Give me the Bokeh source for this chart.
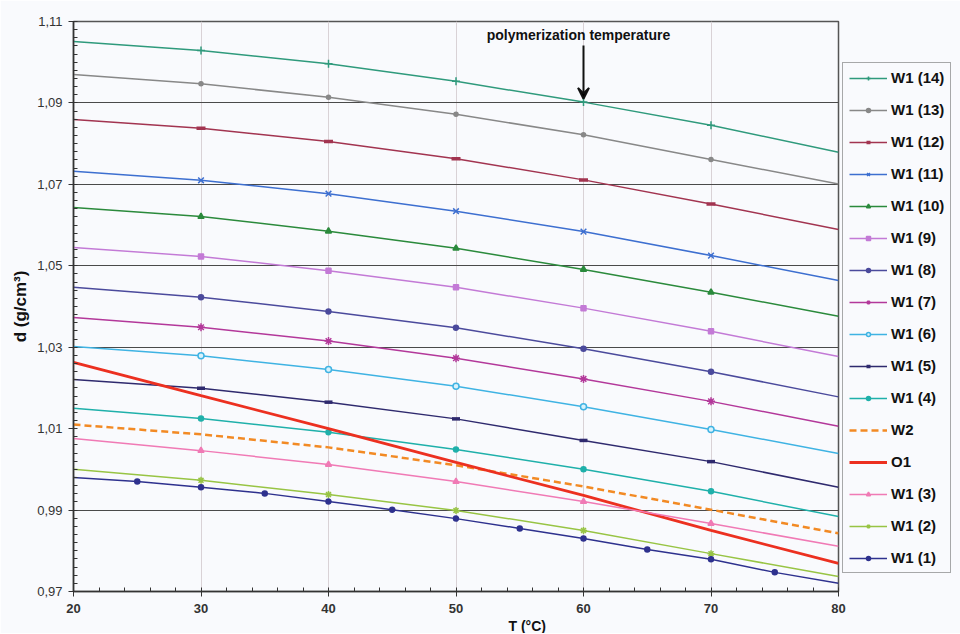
from bokeh.plotting import figure
from bokeh.models import (Legend, LegendItem, Label, Arrow, VeeHead, SingleIntervalTicker,
                          FixedTicker, CustomJSTickFormatter, Title)
from bokeh.embed import file_html
from bokeh.resources import INLINE

# Temperature grid (°C)
T = [20, 30, 40, 50, 60, 70, 80]
T_fine = [20, 25, 30, 35, 40, 45, 50, 55, 60, 65, 70, 75, 80]

# Densities d (g/cm3)
W1_14 = [1.1051, 1.1029, 1.0996, 1.0953, 1.0902, 1.0845, 1.0779]
W1_13 = [1.0970, 1.0947, 1.0914, 1.0872, 1.0822, 1.0761, 1.0701]
W1_12 = [1.0859, 1.0838, 1.0805, 1.0763, 1.0711, 1.0652, 1.0589]
W1_11 = [1.0732, 1.0710, 1.0677, 1.0634, 1.0584, 1.0525, 1.0464]
W1_10 = [1.0643, 1.0621, 1.0585, 1.0543, 1.0491, 1.0435, 1.0376]
W1_9 = [1.0545, 1.0523, 1.0488, 1.0447, 1.0396, 1.0339, 1.0277]
W1_8 = [1.0447, 1.0423, 1.0388, 1.0348, 1.0296, 1.0240, 1.0178]
W1_7 = [1.0373, 1.0349, 1.0315, 1.0273, 1.0222, 1.0167, 1.0106]
W1_6 = [1.0302, 1.0279, 1.0245, 1.0204, 1.0154, 1.0098, 1.0039]
W1_5 = [1.0221, 1.0199, 1.0165, 1.0124, 1.0071, 1.0019, 0.9956]
W1_4 = [1.0150, 1.0125, 1.0091, 1.0049, 1.0000, 0.9946, 0.9884]
W2 = [1.0110, 1.0086, 1.0054, 1.0010, 0.9958, 0.9901, 0.9843]
O1 = [1.0263, 1.0181, 1.0100, 1.0017, 0.9936, 0.9850, 0.9769]
W1_3 = [1.0076, 1.0046, 1.0012, 0.9970, 0.9921, 0.9867, 0.9811]
W1_2 = [1.0000, 0.9973, 0.9938, 0.9899, 0.9850, 0.9793, 0.9737]
W1_1 = [0.9980, 0.9970, 0.9956, 0.9941, 0.9921, 0.9901, 0.9879,
        0.9855, 0.9830, 0.9803, 0.9779, 0.9747, 0.9720]

# Axis ticks
Y_TICKS = [0.97, 0.99, 1.01, 1.03, 1.05, 1.07, 1.09, 1.11]
Y_GRID = [0.99, 1.03, 1.05, 1.07, 1.09]
X_GRID = [30, 40, 50, 60, 70]

POLY_T = 60  # polymerization temperature, °C

BG = "#f9fafd"
FONT = "Liberation Sans"

p = figure(frame_width=765, frame_height=570, x_range=(20, 80), y_range=(0.97, 1.11),
           output_backend="svg", toolbar_location=None,
           min_border_left=73, min_border_right=0, min_border_top=21, min_border_bottom=0,
           background_fill_color=BG, border_fill_color=BG)
p.outline_line_color = "#555555"
p.outline_line_width = 1.5

# axes
p.xaxis.ticker = SingleIntervalTicker(interval=10, num_minor_ticks=5)
y_minor = [round(0.97 + 0.002 * i, 3) for i in range(71)]
p.yaxis.ticker = FixedTicker(ticks=Y_TICKS, minor_ticks=y_minor)
p.yaxis.formatter = CustomJSTickFormatter(code="return tick.toFixed(2).replace('.', ',');")
for ax in (p.xaxis, p.yaxis):
    ax.axis_line_color = "#333333"
    ax.axis_line_width = 1.5
    ax.major_tick_line_color = "#333333"
    ax.minor_tick_line_color = "#333333"
    ax.major_tick_out = 5
    ax.major_tick_in = 3
    ax.minor_tick_in = 4
    ax.minor_tick_out = 0
    ax.major_label_text_font = FONT
    ax.major_label_text_font_size = "13px"
    ax.major_label_text_color = "#333333"
    ax.axis_label_text_font = FONT
    ax.axis_label_text_font_style = "bold"
    ax.axis_label_text_color = "#111111"
p.xaxis.major_label_text_font_style = "bold"
p.xaxis.major_label_standoff = 7
p.yaxis.major_label_standoff = 6
p.yaxis.axis_label = "d (g/cm³)"
p.yaxis.axis_label_text_font_size = "17px"
p.yaxis.axis_label_standoff = 4

# x axis title sits right of centre, under the 50-60 interval
p.add_layout(Title(text="T (°C)", align="left", offset=435, standoff=0,
                   text_font=FONT, text_font_style="bold", text_font_size="14px",
                   text_color="#111111"), "below")

# grids: light vertical lines, dark horizontal lines
p.xgrid.ticker = FixedTicker(ticks=X_GRID)
p.xgrid.grid_line_color = "#d9d2d6"
p.xgrid.grid_line_width = 1
p.ygrid.ticker = FixedTicker(ticks=Y_GRID)
p.ygrid.grid_line_color = "#4a4a4a"
p.ygrid.grid_line_width = 1.2

series = [
    ("W1 (14)", T, W1_14, "#2f9a7c", "cross", 8, None, 1.5),
    ("W1 (13)", T, W1_13, "#888888", "circle", 4, None, 1.5),
    ("W1 (12)", T, W1_12, "#a23450", "dash", 9, None, 1.5),
    ("W1 (11)", T, W1_11, "#3d6fd0", "x", 8, None, 1.5),
    ("W1 (10)", T, W1_10, "#2b8a3c", "triangle", 6, None, 1.5),
    ("W1 (9)", T, W1_9, "#c37ad6", "square", 5, None, 1.5),
    ("W1 (8)", T, W1_8, "#4b4a9c", "circle", 5, None, 1.5),
    ("W1 (7)", T, W1_7, "#b3389a", "asterisk", 8, None, 1.5),
    ("W1 (6)", T, W1_6, "#3fb3e3", "circle", 6, None, 1.5),
    ("W1 (5)", T, W1_5, "#2f2a6e", "dash", 8, None, 1.5),
    ("W1 (4)", T, W1_4, "#1fb0aa", "circle", 5, None, 1.5),
    ("W2", T, W2, "#f28a24", None, 0, "7 4", 2.5),
    ("O1", T, O1, "#ec3020", None, 0, None, 2.8),
    ("W1 (3)", T, W1_3, "#f07ab5", "triangle", 6, None, 1.5),
    ("W1 (2)", T, W1_2, "#98c444", "asterisk", 7, None, 1.5),
    ("W1 (1)", T_fine, W1_1, "#2e318e", "circle", 5, None, 1.5),
]

items = []
for name, xs, ys, color, marker, size, dash, lw in series:
    kw = {}
    if dash:
        kw["line_dash"] = dash
    r_line = p.line(xs, ys, line_color=color, line_width=lw, **kw)
    rends = [r_line]
    if marker:
        mx, my = xs[1:-1], ys[1:-1]
        if marker == "circle" and name == "W1 (6)":
            r_m = p.scatter(mx, my, marker=marker, size=size, line_color=color,
                            fill_color="#d8f2fb", line_width=1.5)
        elif marker == "dash":
            r_m = p.scatter(mx, my, marker=marker, size=size, line_color=color,
                            line_width=3.5)
        else:
            r_m = p.scatter(mx, my, marker=marker, size=size, line_color=color,
                            fill_color=color, line_width=1.5)
        rends.append(r_m)
    items.append(LegendItem(label=name, renderers=rends))

legend = Legend(items=items, location=(4, 18), margin=6,
                glyph_width=38, glyph_height=10, label_height=17,
                spacing=15, padding=6, label_standoff=4,
                label_text_font=FONT, label_text_font_style="bold",
                label_text_font_size="15px", label_text_color="#111111",
                border_line_color="#555555", border_line_width=1.5,
                background_fill_color=BG, background_fill_alpha=1.0)
p.add_layout(legend, "right")

# polymerization temperature marker
p.add_layout(Label(x=POLY_T, y=1.1066, x_offset=-5, text="polymerization temperature",
                   text_align="center", text_baseline="middle", text_font=FONT,
                   text_font_style="bold", text_font_size="14px", text_color="#111111"))
p.add_layout(Arrow(end=VeeHead(size=11, line_width=2, line_color="#111111"),
                   x_start=POLY_T, y_start=1.1041, x_end=POLY_T, y_end=1.0910,
                   line_width=2, line_color="#111111"))

open("out.html", "w").write(file_html(p, INLINE))
